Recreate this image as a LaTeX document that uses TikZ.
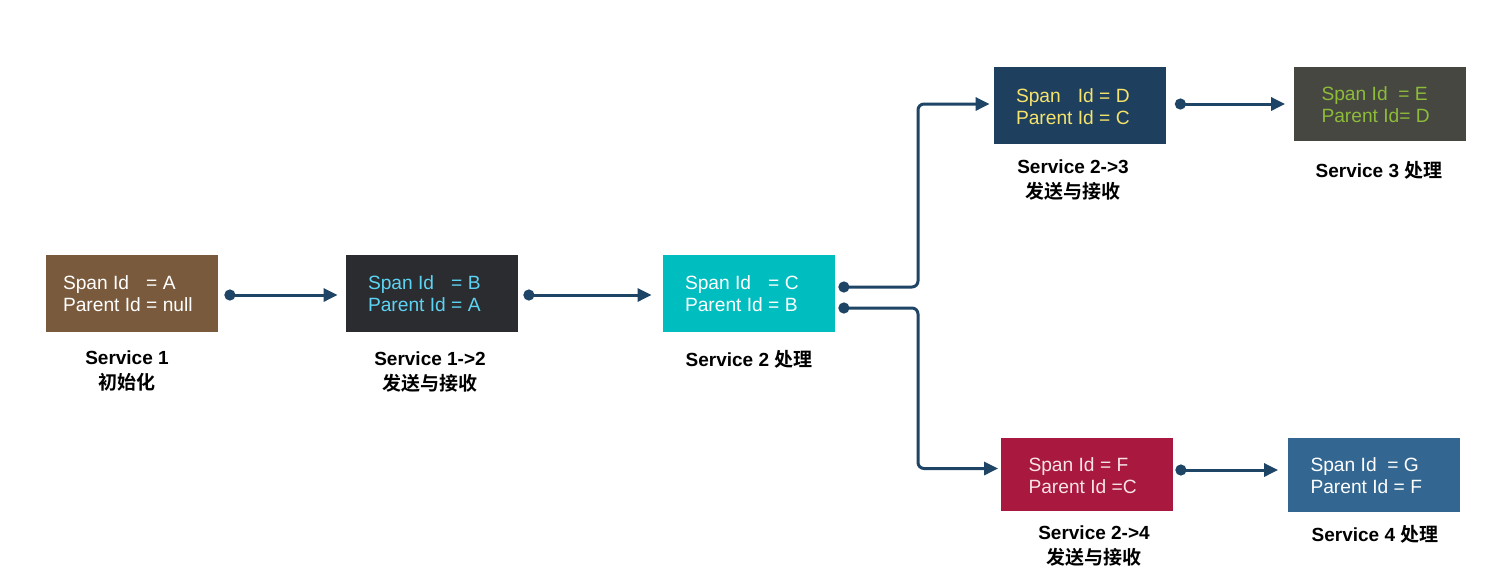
\documentclass[tikz,border=0pt]{standalone}
\usepackage{fontspec}
\setmainfont{Liberation Sans}
\newfontfamily\cjk{Noto Sans CJK SC}[BoldFont={Noto Sans CJK SC Bold}]
\usetikzlibrary{arrows.meta,calc}
\definecolor{arrowc}{HTML}{1E4466}
\definecolor{cA}{HTML}{7A5A3D}
\definecolor{cB}{HTML}{2B2C2F}
\definecolor{tB}{HTML}{5DD3F3}
\definecolor{cC}{HTML}{00BEC0}
\definecolor{cD}{HTML}{1F3F5E}
\definecolor{tD}{HTML}{F5E36B}
\definecolor{cE}{HTML}{464740}
\definecolor{tE}{HTML}{8DBB3A}
\definecolor{cF}{HTML}{A8183F}
\definecolor{tF}{HTML}{F6E4E6}
\definecolor{cG}{HTML}{336791}
\begin{document}
\begin{tikzpicture}[x=0.5pt,y=-0.5pt,
  spanbox/.style={draw=none, minimum width=86pt, minimum height=38.5pt, inner sep=0pt},
  boxtxt/.style={anchor=west, inner sep=0pt, font=\fontsize{9.6pt}{11pt}\selectfont},
  lbl/.style={align=center, inner sep=0pt, font=\fontsize{9.5pt}{12.5pt}\selectfont\bfseries},
  conn/.style={draw=arrowc, line width=1.5pt, rounded corners=3pt,
    {Circle[length=5.5pt]}-{Triangle[length=7pt,width=6.5pt]}}]
\useasboundingbox (0,0) rectangle (1500,579);
% boxes
\node[spanbox, fill=cA] (A) at (132,293) {};
\node[boxtxt, text=white] (At) at ($(A.west)+(17,3.5)$)
  {\begin{tabular}{@{}l@{ }l@{}}Span Id & = A\\ Parent Id & = null\end{tabular}};
\node[spanbox, fill=cB] (B) at (432,293) {};
\node[boxtxt, text=tB] (Bt) at ($(B.west)+(22,3.5)$)
  {\begin{tabular}{@{}l@{ }l@{}}Span Id & = B\\ Parent Id & = A\end{tabular}};
\node[spanbox, fill=cC] (C) at (749,293) {};
\node[boxtxt, text=white] (Ct) at ($(C.west)+(22,3.5)$)
  {\begin{tabular}{@{}l@{ }l@{}}Span Id & = C\\ Parent Id & = B\end{tabular}};
\node[spanbox, fill=cD] (D) at (1080,105) {};
\node[boxtxt, text=tD] (Dt) at ($(D.west)+(22,4)$)
  {\begin{tabular}{@{}l@{ }l@{ }l@{}}Span & Id & = D\\ Parent & Id & = C\end{tabular}};
\node[spanbox, fill=cE, minimum height=37pt] (E) at (1379.5,104) {};
\node[boxtxt, text=tE] (Et) at ($(E.west)+(28,3.5)$)
  {\begin{tabular}{@{}l@{}}Span Id\ \ = E\\ Parent Id= D\end{tabular}};
\node[spanbox, fill=cF, minimum height=36.5pt] (F) at (1086.5,474.5) {};
\node[boxtxt, text=tF] (Ft) at ($(F.west)+(28,3.5)$)
  {\begin{tabular}{@{}l@{}}Span Id = F\\ Parent Id =C\end{tabular}};
\node[spanbox, fill=cG, minimum height=37pt] (G) at (1373.5,475) {};
\node[boxtxt, text=white] (Gt) at ($(G.west)+(23,3)$)
  {\begin{tabular}{@{}l@{}}Span Id\ \ = G\\ Parent Id = F\end{tabular}};
% labels
\node[lbl] (La) at (127,371) {Service 1\\{\cjk\bfseries 初始化}};
\node[lbl] (Lb) at (430,372) {Service 1->2\\{\cjk\bfseries 发送与接收}};
\node[lbl] (Lc) at (749,359) {Service 2 {\cjk\bfseries 处理}};
\node[lbl] (Ld) at (1073,180.5) {Service 2->3\\{\cjk\bfseries 发送与接收}};
\node[lbl] (Le) at (1379,170) {Service 3 {\cjk\bfseries 处理}};
\node[lbl] (Lf) at (1094,546) {Service 2->4\\{\cjk\bfseries 发送与接收}};
\node[lbl] (Lg) at (1375,534) {Service 4 {\cjk\bfseries 处理}};
% connectors
\draw[conn] ($(A.east)+(6,2)$) -- ($(B.west)+(-8,2)$);
\draw[conn] ($(B.east)+(5,2)$) -- ($(C.west)+(-11,2)$);
\draw[conn] ($(C.east)+(3,-6)$) -| (918,200) |- ($(D.west)+(-4,-1)$);
\draw[conn] ($(C.east)+(3,15)$) -| (918,400) |- ($(F.west)+(-2,-6)$);
\draw[conn] ($(D.east)+(8.5,-1)$) -- ($(E.west)+(-8,0)$);
\draw[conn] ($(F.east)+(2.5,-4.5)$) -- ($(G.west)+(-9,-5)$);
\end{tikzpicture}
\end{document}
